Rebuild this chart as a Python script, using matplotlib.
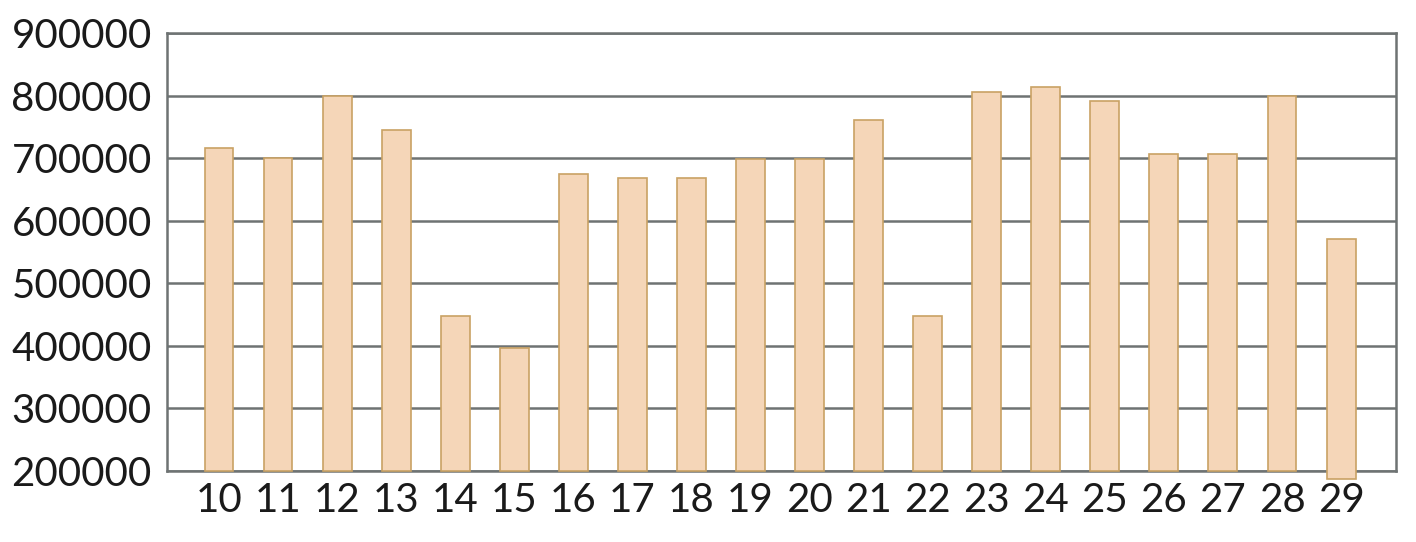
import matplotlib.pyplot as plt
import numpy as np

days = ['10', '11', '12', '13', '14', '15', '16', '17', '18', '19',
        '20', '21', '22', '23', '24', '25', '26', '27', '28', '29']
values = [716000, 700000, 800000, 745000, 447000, 397000, 674000, 668000, 668000, 698000,
          698000, 761000, 447000, 806000, 814000, 791000, 707000, 707000, 800000, 571000]
# bar baselines (the last bar dips below the axis floor in the original)
bottoms = [200000] * 19 + [187000]
yticks = [200000, 300000, 400000, 500000, 600000, 700000, 800000, 900000]

plt.rcParams['font.family'] = ['Lato', 'DejaVu Sans']

fig = plt.figure(figsize=(14.16, 5.42), dpi=100)
ax = fig.add_axes([167/1416, 71/542, 1229/1416, 438/542])

x = np.arange(len(days))
heights = [v - b for v, b in zip(values, bottoms)]
ax.bar(x, heights, bottom=bottoms, width=0.49, color='#f5d6b8',
       edgecolor='#c9a264', linewidth=1.2, zorder=3, clip_on=False)

ax.set_ylim(200000, 900000)
ax.set_xlim(-0.88, 19.93)
ax.set_yticks(yticks)
ax.set_yticklabels([str(t) for t in yticks])
ax.set_xticks(x)
ax.set_xticklabels(days)
ax.tick_params(axis='both', length=0, labelsize=29, colors='#1a1a1a')
ax.tick_params(axis='y', pad=11)
ax.tick_params(axis='x', pad=8)
ax.grid(axis='y', color='#6e7373', linewidth=1.8, zorder=1)
for s in ax.spines.values():
    s.set_color('#6e7373')
    s.set_linewidth(1.8)

plt.savefig('out.png', dpi=100)
